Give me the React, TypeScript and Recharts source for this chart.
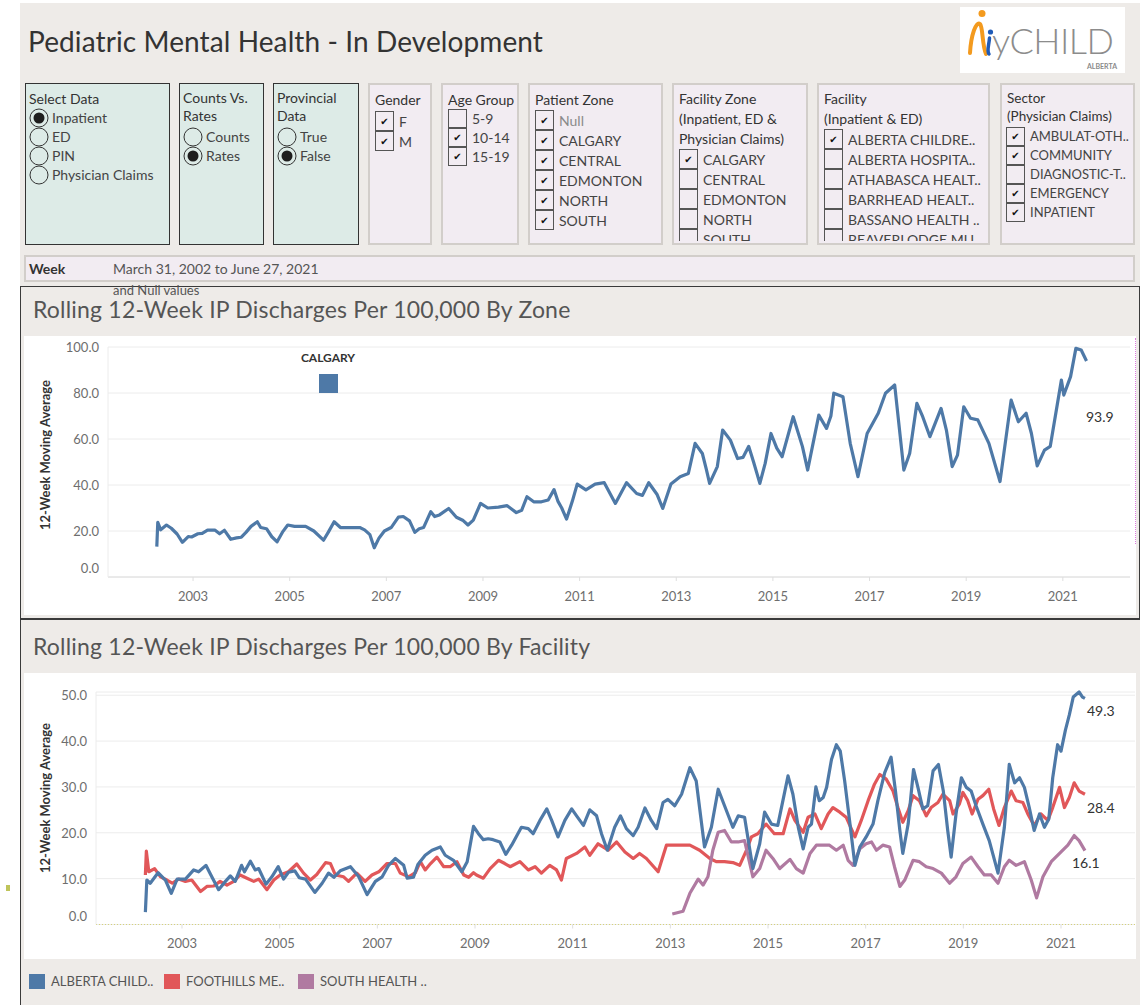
import React from 'react';
import { LineChart, Line, XAxis, YAxis, CartesianGrid } from 'recharts';

const FONT = 'Lato, "Open Sans", sans-serif';

// [decimal year of week, 12-week moving average per 100,000]
const calgaryZone: [number, number][] = [
  [2002.25, 13.2], [2002.27, 23.8], [2002.33, 20.5], [2002.45, 22.6], [2002.55, 21.2], [2002.67, 18.7],
  [2002.78, 15.1], [2002.9, 17.6], [2002.97, 17.4], [2003.1, 18.8], [2003.19, 19.0], [2003.3, 20.4],
  [2003.45, 20.4], [2003.55, 18.8], [2003.65, 20.3], [2003.78, 16.4], [2003.9, 17.0], [2004.0, 17.3],
  [2004.1, 19.5], [2004.2, 22.0], [2004.33, 24.0], [2004.4, 21.5], [2004.52, 21.0], [2004.63, 17.5],
  [2004.74, 15.3], [2004.85, 19.5], [2004.96, 22.6], [2005.1, 22.0], [2005.33, 22.0], [2005.5, 20.0],
  [2005.7, 16.0], [2005.8, 19.5], [2005.92, 24.0], [2006.05, 21.5], [2006.29, 21.5], [2006.45, 21.5],
  [2006.55, 20.5], [2006.66, 18.4], [2006.75, 12.7], [2006.85, 17.0], [2006.96, 20.0], [2007.1, 21.5],
  [2007.25, 26.0], [2007.35, 26.3], [2007.48, 24.4], [2007.59, 19.4], [2007.68, 21.0], [2007.77, 21.5],
  [2007.92, 28.4], [2008.0, 26.3], [2008.1, 27.0], [2008.29, 29.8], [2008.45, 26.0], [2008.58, 24.7],
  [2008.69, 22.6], [2008.8, 24.7], [2008.95, 32.0], [2009.1, 30.0], [2009.32, 30.4], [2009.5, 31.0],
  [2009.69, 28.0], [2009.8, 29.0], [2009.91, 34.9], [2010.05, 32.7], [2010.21, 32.7], [2010.35, 33.5],
  [2010.47, 38.0], [2010.55, 33.0], [2010.63, 30.0], [2010.73, 25.2], [2010.85, 33.0], [2010.95, 40.4],
  [2011.13, 37.9], [2011.32, 40.4], [2011.51, 41.0], [2011.74, 32.0], [2011.97, 41.0], [2012.18, 36.3],
  [2012.3, 35.5], [2012.43, 41.0], [2012.6, 36.0], [2012.72, 29.8], [2012.89, 40.4], [2013.08, 43.6],
  [2013.25, 45.0], [2013.39, 58.1], [2013.54, 53.7], [2013.62, 47.0], [2013.69, 40.7], [2013.85, 48.0],
  [2013.96, 63.9], [2014.12, 59.5], [2014.27, 51.5], [2014.38, 52.0], [2014.5, 56.8], [2014.6, 50.0],
  [2014.73, 40.7], [2014.84, 49.4], [2014.96, 62.4], [2015.08, 56.0], [2015.19, 52.3], [2015.42, 69.7],
  [2015.61, 56.8], [2015.72, 46.5], [2015.83, 58.0], [2015.95, 70.4], [2016.11, 64.6], [2016.2, 70.0],
  [2016.26, 79.9], [2016.45, 78.4], [2016.6, 58.1], [2016.76, 43.6], [2016.95, 62.4], [2017.18, 71.2],
  [2017.33, 79.9], [2017.52, 83.5], [2017.71, 46.5], [2017.83, 53.7], [2017.98, 75.5], [2018.1, 69.7],
  [2018.25, 61.0], [2018.48, 73.3], [2018.59, 63.9], [2018.71, 48.0], [2018.82, 53.0], [2018.95, 74.0],
  [2019.09, 69.0], [2019.24, 68.3], [2019.47, 58.1], [2019.7, 41.5], [2019.93, 76.9], [2020.08, 67.5],
  [2020.24, 71.2], [2020.35, 62.4], [2020.47, 48.3], [2020.62, 55.2], [2020.74, 56.8], [2020.97, 85.6],
  [2021.02, 79.1], [2021.16, 87.1], [2021.27, 99.4], [2021.38, 98.7], [2021.49, 93.9],
];

const albertaChildrens: [number, number][] = [
  [2002.25, 2.7], [2002.28, 9.7], [2002.35, 9.0], [2002.51, 11.3], [2002.66, 9.7], [2002.78, 6.8],
  [2002.9, 9.9], [2003.07, 9.9], [2003.24, 11.9], [2003.34, 11.5], [2003.49, 12.9], [2003.61, 10.4],
  [2003.75, 7.6], [2003.89, 9.4], [2003.99, 10.6], [2004.09, 9.4], [2004.22, 12.9], [2004.28, 11.5],
  [2004.4, 13.8], [2004.5, 11.9], [2004.57, 12.2], [2004.72, 8.8], [2004.84, 10.4], [2004.97, 12.6],
  [2005.08, 9.9], [2005.18, 11.4], [2005.31, 11.7], [2005.4, 10.2], [2005.53, 9.9], [2005.72, 7.0],
  [2005.87, 9.0], [2006.0, 11.2], [2006.11, 10.3], [2006.24, 11.7], [2006.45, 12.6], [2006.62, 10.4],
  [2006.79, 6.5], [2006.96, 9.4], [2007.1, 10.4], [2007.23, 12.9], [2007.37, 14.4], [2007.54, 12.9],
  [2007.61, 10.1], [2007.74, 10.3], [2007.83, 13.1], [2007.98, 15.1], [2008.12, 16.2], [2008.29, 16.9],
  [2008.39, 15.1], [2008.56, 14.0], [2008.73, 11.5], [2008.84, 13.7], [2008.97, 21.4], [2009.07, 19.8],
  [2009.17, 18.5], [2009.27, 18.7], [2009.37, 18.5], [2009.51, 18.0], [2009.63, 15.3], [2009.75, 17.3],
  [2009.95, 21.2], [2010.09, 20.9], [2010.19, 19.8], [2010.33, 22.7], [2010.47, 25.2], [2010.57, 22.7],
  [2010.7, 19.1], [2010.84, 22.7], [2010.98, 25.2], [2011.08, 23.7], [2011.22, 21.6], [2011.35, 25.0],
  [2011.49, 23.7], [2011.59, 19.8], [2011.71, 16.2], [2011.86, 21.2], [2011.98, 23.7], [2012.1, 20.9],
  [2012.24, 19.4], [2012.34, 21.2], [2012.48, 25.4], [2012.61, 22.7], [2012.72, 20.9], [2012.85, 26.6],
  [2012.95, 27.3], [2013.09, 25.9], [2013.23, 28.4], [2013.4, 34.2], [2013.53, 31.3], [2013.7, 16.9],
  [2013.84, 21.2], [2013.98, 29.5], [2014.11, 25.9], [2014.28, 21.2], [2014.39, 23.7], [2014.52, 23.4],
  [2014.69, 12.2], [2014.83, 17.6], [2014.93, 24.5], [2015.07, 21.9], [2015.2, 21.6], [2015.41, 32.4],
  [2015.51, 28.4], [2015.62, 21.2], [2015.72, 16.5], [2015.82, 21.2], [2015.89, 21.9], [2015.98, 30.0],
  [2016.05, 27.0], [2016.13, 27.7], [2016.2, 29.9], [2016.3, 36.0], [2016.4, 39.2], [2016.48, 37.8],
  [2016.57, 31.3], [2016.67, 22.7], [2016.78, 12.9], [2016.88, 16.9], [2017.01, 19.1], [2017.15, 21.9],
  [2017.25, 27.0], [2017.39, 33.1], [2017.52, 36.5], [2017.61, 29.1], [2017.7, 20.5], [2017.76, 15.5],
  [2017.87, 21.9], [2017.98, 33.8], [2018.07, 29.9], [2018.17, 25.2], [2018.27, 25.9], [2018.38, 33.5],
  [2018.49, 34.9], [2018.59, 29.1], [2018.68, 20.5], [2018.75, 14.7], [2018.85, 24.1], [2018.96, 32.0],
  [2019.06, 29.9], [2019.16, 29.1], [2019.26, 25.9], [2019.4, 21.9], [2019.53, 18.3], [2019.71, 11.2],
  [2019.84, 21.2], [2019.94, 34.9], [2020.05, 30.9], [2020.15, 32.0], [2020.25, 29.9], [2020.35, 25.5],
  [2020.45, 20.5], [2020.56, 24.1], [2020.66, 21.2], [2020.75, 23.0], [2020.83, 32.0], [2020.93, 39.2],
  [2021.0, 37.8], [2021.09, 42.4], [2021.17, 45.7], [2021.25, 49.6], [2021.37, 50.7], [2021.44, 49.6],
  [2021.49, 49.3],
];

const foothillsMedical: [number, number][] = [
  [2002.25, 10.8], [2002.27, 16.0], [2002.32, 11.5], [2002.44, 12.2], [2002.56, 10.4], [2002.69, 9.7],
  [2002.8, 9.0], [2002.93, 9.9], [2003.07, 9.4], [2003.2, 9.7], [2003.38, 7.2], [2003.51, 8.3],
  [2003.65, 8.4], [2003.78, 9.4], [2003.92, 8.6], [2004.06, 9.4], [2004.19, 10.8], [2004.33, 10.1],
  [2004.47, 9.4], [2004.57, 9.9], [2004.74, 7.6], [2004.88, 9.7], [2005.01, 10.8], [2005.18, 11.5],
  [2005.35, 13.2], [2005.49, 11.2], [2005.63, 9.7], [2005.76, 10.9], [2005.94, 13.5], [2006.04, 13.3],
  [2006.14, 10.8], [2006.31, 10.4], [2006.41, 9.4], [2006.58, 11.2], [2006.75, 9.4], [2006.89, 10.8],
  [2007.03, 11.5], [2007.2, 13.3], [2007.37, 13.3], [2007.47, 11.2], [2007.64, 10.4], [2007.78, 11.3],
  [2007.88, 13.7], [2007.98, 11.9], [2008.09, 13.3], [2008.22, 14.7], [2008.36, 12.6], [2008.49, 12.6],
  [2008.63, 13.7], [2008.77, 10.8], [2008.87, 10.3], [2008.97, 11.3], [2009.03, 10.8], [2009.17, 10.1],
  [2009.31, 12.2], [2009.48, 14.0], [2009.61, 13.3], [2009.72, 12.6], [2009.92, 13.7], [2010.09, 11.9],
  [2010.23, 12.6], [2010.36, 11.2], [2010.53, 12.9], [2010.67, 11.9], [2010.77, 9.7], [2010.87, 14.4],
  [2011.08, 15.5], [2011.25, 16.9], [2011.35, 15.1], [2011.52, 17.6], [2011.73, 16.2], [2011.9, 18.0],
  [2012.07, 15.8], [2012.24, 14.4], [2012.37, 15.5], [2012.51, 14.4], [2012.75, 11.5], [2012.92, 17.3],
  [2013.12, 17.3], [2013.4, 17.3], [2013.6, 16.2], [2013.81, 14.4], [2013.94, 13.7], [2014.11, 13.7],
  [2014.28, 13.5], [2014.42, 12.9], [2014.56, 16.2], [2014.66, 19.1], [2014.79, 19.8], [2014.96, 21.9],
  [2015.13, 19.8], [2015.31, 19.8], [2015.45, 25.2], [2015.55, 22.7], [2015.72, 20.1], [2015.82, 23.4],
  [2015.96, 24.1], [2016.09, 20.9], [2016.23, 24.1], [2016.33, 25.5], [2016.47, 24.5], [2016.6, 23.4],
  [2016.78, 19.1], [2016.91, 22.7], [2017.05, 27.0], [2017.18, 30.6], [2017.29, 32.7], [2017.42, 31.7],
  [2017.56, 29.1], [2017.66, 25.5], [2017.76, 22.3], [2017.87, 24.8], [2017.97, 28.1], [2018.1, 27.0],
  [2018.24, 23.7], [2018.34, 25.5], [2018.48, 26.6], [2018.58, 28.4], [2018.72, 27.0], [2018.79, 24.1],
  [2018.92, 26.3], [2018.99, 28.8], [2019.09, 27.0], [2019.18, 24.1], [2019.3, 27.3], [2019.4, 28.1],
  [2019.52, 29.5], [2019.62, 25.2], [2019.73, 21.6], [2019.84, 25.5], [2019.98, 29.1], [2020.08, 27.0],
  [2020.22, 26.6], [2020.32, 24.1], [2020.45, 21.6], [2020.59, 24.1], [2020.73, 22.7], [2020.83, 25.5],
  [2020.97, 29.9], [2021.07, 25.5], [2021.17, 27.7], [2021.27, 30.9], [2021.37, 29.1], [2021.49, 28.4],
];

const southHealth: [number, number][] = [
  [2013.04, 2.3], [2013.26, 2.9], [2013.4, 6.8], [2013.57, 9.9], [2013.67, 8.6], [2013.77, 10.4],
  [2013.87, 16.2], [2013.98, 20.1], [2014.11, 20.5], [2014.25, 18.0], [2014.39, 18.0], [2014.52, 18.3],
  [2014.69, 10.4], [2014.83, 12.2], [2014.96, 16.2], [2015.1, 14.4], [2015.24, 12.2], [2015.45, 14.2],
  [2015.58, 12.2], [2015.72, 11.2], [2015.86, 15.5], [2015.99, 17.3], [2016.13, 17.3], [2016.26, 17.3],
  [2016.4, 16.2], [2016.54, 17.3], [2016.64, 14.0], [2016.74, 12.9], [2016.88, 16.5], [2017.01, 17.6],
  [2017.12, 18.0], [2017.22, 16.2], [2017.35, 17.3], [2017.49, 16.9], [2017.59, 12.6], [2017.7, 8.3],
  [2017.8, 9.7], [2017.97, 14.0], [2018.1, 13.7], [2018.24, 12.6], [2018.38, 12.2], [2018.55, 11.2],
  [2018.72, 9.0], [2018.85, 10.4], [2018.99, 13.3], [2019.16, 14.7], [2019.3, 12.6], [2019.43, 10.8],
  [2019.57, 10.8], [2019.71, 9.0], [2019.84, 12.6], [2019.94, 14.0], [2020.08, 12.9], [2020.25, 13.7],
  [2020.39, 9.7], [2020.5, 5.8], [2020.63, 10.4], [2020.8, 13.7], [2020.97, 15.5], [2021.14, 17.3],
  [2021.27, 19.4], [2021.37, 18.3], [2021.49, 16.1],
];

const yearTicks = [2003, 2005, 2007, 2009, 2011, 2013, 2015, 2017, 2019, 2021];
const zoneTicks = [0, 20, 40, 60, 80, 100];
const facilityTicks = [0, 10, 20, 30, 40, 50];

const selectDataOptions = ['Inpatient', 'ED', 'PIN', 'Physician Claims'];
const countsOptions = ['Counts', 'Rates'];
const provincialOptions = ['True', 'False'];
const genders = ['F', 'M'];
const genderChecked = [true, true];
const ageGroups = ['5-9', '10-14', '15-19'];
const ageChecked = [false, true, true];
const patientZones = ['Null', 'CALGARY', 'CENTRAL', 'EDMONTON', 'NORTH', 'SOUTH'];
const patientZoneChecked = [true, true, true, true, true, true];
const facilityZones = ['CALGARY', 'CENTRAL', 'EDMONTON', 'NORTH', 'SOUTH'];
const facilityZoneChecked = [true, false, false, false, false];
const facilities = ['ALBERTA CHILDRE..', 'ALBERTA HOSPITA..', 'ATHABASCA HEALT..', 'BARRHEAD HEALT..', 'BASSANO HEALTH ..', 'BEAVERLODGE MU'];
const facilityChecked = [true, false, false, false, false, false];
const sectors = ['AMBULAT-OTH..', 'COMMUNITY', 'DIAGNOSTIC-T..', 'EMERGENCY', 'INPATIENT'];
const sectorChecked = [true, true, false, true, true];

const BLUE = '#4E79A7';
const RED = '#E15759';
const PURPLE = '#B07AA1';

const facilitySeries = [
  { name: 'ALBERTA CHILD..', color: BLUE, data: albertaChildrens },
  { name: 'FOOTHILLS ME..', color: RED, data: foothillsMedical },
  { name: 'SOUTH HEALTH ..', color: PURPLE, data: southHealth },
];

const toPts = (arr: [number, number][]) => arr.map(([x, y]) => ({ x, y }));
const lastVal = (arr: [number, number][]) => arr[arr.length - 1][1].toFixed(1);

const makeXTick = (dy: number) => (props: any) => {
  const { x, y, payload } = props;
  return (
    <text x={x} y={y + dy} textAnchor="middle" dominantBaseline="central" fontSize={13} fill="#6e6e6e" fontFamily={FONT}>
      {payload.value}
    </text>
  );
};

const YTick = (props: any) => {
  const { x, y, payload } = props;
  // tableau nudges the zero label up off the axis
  return (
    <text x={x} y={payload.value === 0 ? y - 9 : y} textAnchor="end" dominantBaseline="central" fontSize={13} fill="#6e6e6e" fontFamily={FONT}>
      {Number(payload.value).toFixed(1)}
    </text>
  );
};

function Radio({ label, on }: { label: string; on?: boolean }) {
  return (
    <div style={{ display: 'flex', alignItems: 'center', height: 19 }}>
      <svg width={20} height={20} style={{ flex: 'none' }}>
        <circle cx={10} cy={10} r={9} fill="none" stroke="#333" strokeWidth={1} />
        {on && <circle cx={10} cy={10} r={5.5} fill="#1e1e1e" />}
      </svg>
      <span style={{ marginLeft: 3, color: '#444' }}>{label}</span>
    </div>
  );
}

function Check({ label, on, h, muted }: { label: string; on: boolean; h: number; muted?: boolean }) {
  return (
    <div style={{ display: 'flex', alignItems: 'center', height: h }}>
      <div
        style={{
          width: 19, height: h, boxSizing: 'border-box', border: '1px solid #555', flex: 'none',
          display: 'flex', alignItems: 'center', justifyContent: 'center', fontSize: 10, color: '#111',
          fontFamily: '"DejaVu Sans", sans-serif',
        }}
      >
        {on ? '\u2714' : ''}
      </div>
      <span style={{ marginLeft: 5, color: muted ? '#8a8a8a' : '#444', whiteSpace: 'nowrap' }}>{label}</span>
    </div>
  );
}

function Panel({ left, width, teal, children }: { left: number; width: number; teal?: boolean; children: React.ReactNode }) {
  return (
    <div
      style={{
        position: 'absolute', left, top: 83, width, height: 162, boxSizing: 'border-box', overflow: 'hidden',
        background: teal ? '#DDEBE7' : '#F2ECF2',
        border: teal ? '1.5px solid #333' : '2px solid #D2CECA',
        padding: '5px 0 0 3px',
        fontSize: 14, color: '#333', lineHeight: '19px',
      }}
    >
      {children}
    </div>
  );
}

function Logo() {
  return (
    <div style={{ position: 'absolute', left: 960, top: 7, width: 165, height: 66, background: '#fff' }}>
      <svg width={165} height={66}>
        <circle cx={22} cy={6.5} r={3.5} fill="#F39A1E" />
        <path d="M 10 46 C 11 28, 16 14, 20 17 C 23 20, 22 38, 26 47" fill="none" stroke="#F39A1E" strokeWidth={4} strokeLinecap="round" />
        <circle cx={30.5} cy={25} r={2.6} fill="#1F5BB8" />
        <path d="M 29.5 31 C 29 38, 26.5 44, 29 47" fill="none" stroke="#1F5BB8" strokeWidth={3.5} strokeLinecap="round" />
        <text x={32} y={47} fontSize={36} fill="#8c8c8c" fontFamily={FONT} fontWeight={300} letterSpacing={-0.5}>yCHILD</text>
        <text x={157} y={62} fontSize={7} fill="#8a8a8a" fontFamily={FONT} fontWeight={700} textAnchor="end">ALBERTA</text>
      </svg>
    </div>
  );
}

function YTitle({ cy }: { cy: number }) {
  return (
    <div
      style={{
        position: 'absolute', left: 45, top: cy, width: 0, height: 0,
        display: 'flex', alignItems: 'center', justifyContent: 'center',
      }}
    >
      <div style={{ transform: 'rotate(-90deg)', whiteSpace: 'nowrap', fontSize: 13, fontWeight: 700, color: '#333' }}>
        12-Week Moving Average
      </div>
    </div>
  );
}

export default function App() {
  return (
    <div style={{ position: 'absolute', left: 0, top: 0, width: 1148, height: 1005, background: '#fff', overflow: 'hidden', fontFamily: FONT }}>
      <div style={{ position: 'absolute', left: 20, top: 3, width: 1120, height: 1002, background: '#EEEBE8' }} />
      <div style={{ position: 'absolute', left: 6, top: 885, width: 4, height: 6, background: '#BFC45A' }} />

      {/* header */}
      <div style={{ position: 'absolute', left: 28, top: 24, fontSize: 28, lineHeight: '34px', letterSpacing: 0.1, color: '#333' }}>
        Pediatric Mental Health - In Development
      </div>
      <Logo />

      {/* filters */}
      <Panel left={25} width={145} teal>
        <div>Select Data</div>
        {selectDataOptions.map((o, i) => <Radio key={o} label={o} on={i === 0} />)}
      </Panel>
      <Panel left={179} width={85} teal>
        <div style={{ lineHeight: '17.5px' }}>Counts Vs.<br />Rates</div>
        <div style={{ marginTop: 3 }}>
          {countsOptions.map((o, i) => <Radio key={o} label={o} on={i === 1} />)}
        </div>
      </Panel>
      <Panel left={273} width={86} teal>
        <div style={{ lineHeight: '17.5px' }}>Provincial<br />Data</div>
        <div style={{ marginTop: 3 }}>
          {provincialOptions.map((o, i) => <Radio key={o} label={o} on={i === 1} />)}
        </div>
      </Panel>
      <Panel left={368} width={64}>
        <div style={{ paddingLeft: 2 }}>Gender</div>
        <div style={{ marginTop: 2, paddingLeft: 2 }}>
          {genders.map((o, i) => <Check key={o} label={o} on={genderChecked[i]} h={20} />)}
        </div>
      </Panel>
      <Panel left={441} width={78}>
        <div style={{ paddingLeft: 2 }}>Age Group</div>
        <div style={{ paddingLeft: 2 }}>
          {ageGroups.map((o, i) => <Check key={o} label={o} on={ageChecked[i]} h={19} />)}
        </div>
      </Panel>
      <Panel left={528} width={135}>
        <div style={{ paddingLeft: 2 }}>Patient Zone</div>
        <div style={{ paddingLeft: 2, marginTop: 1 }}>
          {patientZones.map((o, i) => <Check key={o} label={o} on={patientZoneChecked[i]} h={20} muted={o === 'Null'} />)}
        </div>
      </Panel>
      <Panel left={672} width={136}>
        <div style={{ paddingLeft: 2, lineHeight: '20px', marginTop: -1 }}>Facility Zone<br />(Inpatient, ED &amp;<br />Physician Claims)</div>
        <div style={{ paddingLeft: 2, height: 92, overflow: 'hidden' }}>
          {facilityZones.map((o, i) => <Check key={o} label={o} on={facilityZoneChecked[i]} h={20} />)}
        </div>
      </Panel>
      <Panel left={817} width={173}>
        <div style={{ paddingLeft: 2, lineHeight: '20px', marginTop: -1 }}>Facility<br />(Inpatient &amp; ED)</div>
        <div style={{ paddingLeft: 2, height: 112, overflow: 'hidden' }}>
          {facilities.map((o, i) => <Check key={o} label={o} on={facilityChecked[i]} h={20} />)}
        </div>
      </Panel>
      <Panel left={1000} width={135}>
        <div style={{ paddingLeft: 2, lineHeight: '17.5px', fontSize: 13.5 }}>Sector<br />(Physician Claims)</div>
        <div style={{ paddingLeft: 1, marginTop: 2, fontSize: 13 }}>
          {sectors.map((o, i) => <Check key={o} label={o} on={sectorChecked[i]} h={19} />)}
        </div>
      </Panel>

      {/* week filter */}
      <div
        style={{
          position: 'absolute', left: 24, top: 255, width: 1111, height: 27, boxSizing: 'border-box',
          background: '#F2ECF2', border: '2px solid #D2CECA',
        }}
      />
      <div style={{ position: 'absolute', left: 29, top: 259, fontSize: 14, fontWeight: 700, color: '#333', lineHeight: '20px' }}>Week</div>
      <div style={{ position: 'absolute', left: 113, top: 259, fontSize: 14, color: '#555', lineHeight: '20px' }}>March 31, 2002 to June 27, 2021</div>

      {/* zone chart */}
      <div
        style={{
          position: 'absolute', left: 20, top: 286, width: 1120, height: 333, boxSizing: 'border-box',
          borderTop: '1.5px solid #3a3a3a', borderLeft: '1.5px solid #3a3a3a', borderRight: '1.5px solid #3a3a3a',
        }}
      />
      <div style={{ position: 'absolute', left: 33, top: 295, fontSize: 23, lineHeight: '28px', letterSpacing: 0.2, color: '#555' }}>
        Rolling 12-Week IP Discharges Per 100,000 By Zone
      </div>
      <div style={{ position: 'absolute', left: 24, top: 336, width: 1112, height: 279, background: '#fff' }}>
        <LineChart width={1112} height={278} margin={{ top: 11, right: 6, bottom: 0, left: 0 }}>
          <CartesianGrid horizontal vertical={false} stroke="#ececec" />
          <XAxis
            type="number" dataKey="x" domain={[2001.24, 2022.39]} ticks={yearTicks} interval={0}
            allowDataOverflow height={37} tickSize={4} tickMargin={0}
            tickLine={{ stroke: '#dedede' }} axisLine={{ stroke: '#dedede' }} tick={makeXTick(15)}
          />
          <YAxis
            type="number" domain={[0, 100]} ticks={zoneTicks} interval={0} width={84}
            tickSize={0} tickMargin={9} axisLine={{ stroke: '#ececec' }} tickLine={false} tick={YTick}
          />
          <Line
            data={toPts(calgaryZone)} dataKey="y" type="linear" stroke={BLUE} strokeWidth={3.2}
            dot={false} isAnimationActive={false} strokeLinejoin="round"
          />
        </LineChart>
      </div>
      <YTitle cy={455} />
      <div style={{ position: 'absolute', left: 288, top: 350, width: 80, textAlign: 'center', fontSize: 12, fontWeight: 700, color: '#333', lineHeight: '16px' }}>
        CALGARY
      </div>
      <div style={{ position: 'absolute', left: 319, top: 374, width: 19, height: 19, background: BLUE }} />
      <div style={{ position: 'absolute', left: 1086, top: 408, fontSize: 14, color: '#333', lineHeight: '18px' }}>{lastVal(calgaryZone)}</div>
      <div style={{ position: 'absolute', left: 1135, top: 338, width: 0, height: 206, borderLeft: '1px dotted #E07AE0' }} />

      {/* facility chart */}
      <div
        style={{
          position: 'absolute', left: 20, top: 618, width: 1120, height: 400, boxSizing: 'border-box',
          borderTop: '2px solid #3a3a3a', borderLeft: '1.5px solid #3a3a3a',
        }}
      />
      <div style={{ position: 'absolute', left: 33, top: 632, fontSize: 23, lineHeight: '28px', letterSpacing: 0.2, color: '#555' }}>
        Rolling 12-Week IP Discharges Per 100,000 By Facility
      </div>
      <div style={{ position: 'absolute', left: 24, top: 673, width: 1112, height: 286, background: '#fff' }}>
        <LineChart width={1112} height={287} margin={{ top: 19, right: 1, bottom: 0, left: 0 }}>
          <CartesianGrid horizontal vertical={false} stroke="#ececec" />
          <XAxis
            type="number" dataKey="x" domain={[2001.239, 2022.515]} ticks={yearTicks} interval={0}
            allowDataOverflow height={35.5} tickSize={4} tickMargin={0}
            tickLine={{ stroke: '#dedede' }} axisLine={{ stroke: '#D6D27A', strokeDasharray: '1 2' }} tick={makeXTick(14)}
          />
          <YAxis
            type="number" domain={[0, 50]} ticks={facilityTicks} interval={0} width={72}
            tickSize={0} tickMargin={9} axisLine={{ stroke: '#ececec' }} tickLine={false} tick={YTick}
          />
          {[facilitySeries[1], facilitySeries[2], facilitySeries[0]].map((s) => (
            <Line
              key={s.name} data={toPts(s.data)} dataKey="y" name={s.name} type="linear" stroke={s.color}
              strokeWidth={3.2} dot={false} isAnimationActive={false} strokeLinejoin="round"
            />
          ))}
        </LineChart>
      </div>
      <YTitle cy={798} />
      <div style={{ position: 'absolute', left: 1087, top: 702, fontSize: 14, color: '#333', lineHeight: '18px' }}>{lastVal(albertaChildrens)}</div>
      <div style={{ position: 'absolute', left: 1087, top: 799, fontSize: 14, color: '#333', lineHeight: '18px' }}>{lastVal(foothillsMedical)}</div>
      <div style={{ position: 'absolute', left: 1072, top: 854, fontSize: 14, color: '#333', lineHeight: '18px' }}>{lastVal(southHealth)}</div>

      {/* legend */}
      {facilitySeries.map((s, i) => (
        <div key={s.name} style={{ position: 'absolute', left: [29, 164, 298][i], top: 973, display: 'flex', alignItems: 'center', height: 16 }}>
          <div style={{ width: 16, height: 15, background: s.color }} />
          <span style={{ marginLeft: 6, fontSize: 13, color: '#555', whiteSpace: 'nowrap' }}>{s.name}</span>
        </div>
      ))}

      {/* overflowing filter caption, drawn over the chart frame like in the dashboard */}
      <div style={{ position: 'absolute', left: 113, top: 282, fontSize: 13, color: '#555', lineHeight: '16px' }}>and Null values</div>
    </div>
  );
}
